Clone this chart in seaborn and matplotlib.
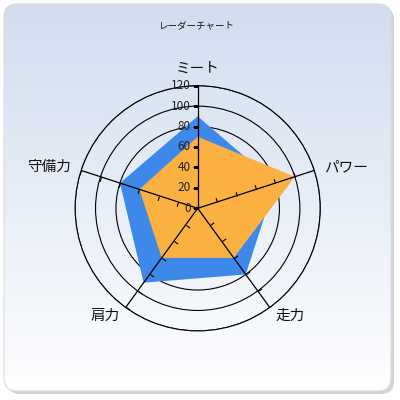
import numpy as np
import matplotlib
matplotlib.use("Agg")
import matplotlib.pyplot as plt
import seaborn as sns
from matplotlib.patches import FancyBboxPatch
from matplotlib.path import Path
from matplotlib.markers import MarkerStyle
from matplotlib.transforms import Affine2D

# --- DADOS ---
TITLE = "レーダーチャート"
categories = ["ミート", "パワー", "走力", "肩力", "守備力"]
series_blue = [90, 80, 80, 90, 80]
series_orange = [70, 100, 60, 60, 60]
r_ticks = [0, 20, 40, 60, 80, 100, 120]

BLUE = "#3d88e8"
ORANGE = "#fab142"

sns.set_theme(style="white")
plt.rcParams["font.family"] = ["Noto Sans CJK JP", "DejaVu Sans"]

fig = plt.figure(figsize=(4, 4), dpi=100, facecolor="white")

# fundo do cartão (gradiente + sombra), em coordenadas de pixel
bg = fig.add_axes([0, 0, 1, 1])
bg.set_xlim(0, 400)
bg.set_ylim(400, 0)
bg.axis("off")
shadow = FancyBboxPatch((7, 7), 387, 387, boxstyle="round,pad=0,rounding_size=13",
                        fc="#c9c9c9", ec="none", alpha=0.8)
bg.add_patch(shadow)
card = FancyBboxPatch((4, 4), 387, 387, boxstyle="round,pad=0,rounding_size=13",
                      fc="none", ec="#dcdcdc", lw=0.8, zorder=3)
bg.add_patch(card)
top = np.array([0.82, 0.867, 0.937])
bottom = np.array([0.995, 0.997, 1.0])
t = np.linspace(0, 1, 256)[:, None, None]
grad = top * (1 - t) + bottom * t
im = bg.imshow(grad, extent=(4, 391, 391, 4), aspect="auto", zorder=2)
clip = FancyBboxPatch((4, 4), 387, 387, boxstyle="round,pad=0,rounding_size=13",
                      transform=bg.transData, fc="none", ec="none")
bg.add_patch(clip)
im.set_clip_path(clip)

fig.text(0.4925, 1 - 25.7 / 400, TITLE, ha="center", va="center", fontsize=6.8, color="#111111")

# --- RADAR ---
cx, cy, rad = 197.7, 208.3, 122.6
ax = fig.add_axes([(cx - rad) / 400, 1 - (cy + rad) / 400, 2 * rad / 400, 2 * rad / 400],
                  projection="polar")
ax.set_facecolor("none")
ax.set_theta_offset(np.pi / 2)
ax.set_theta_direction(-1)
ax.set_ylim(0, r_ticks[-1])
ax.set_yticks(r_ticks[1:])
ax.set_yticklabels([])
ax.set_xticks([])
ax.set_axisbelow(True)
ax.yaxis.grid(True, color="black", lw=0.8)
ax.xaxis.grid(False)
ax.spines["polar"].set_color("black")
ax.spines["polar"].set_linewidth(0.8)

n = len(categories)
theta = np.linspace(0, 2 * np.pi, n, endpoint=False)
theta_c = np.append(theta, theta[0])

ax.fill(theta_c, series_blue + series_blue[:1], color=BLUE, lw=0, zorder=2)
ax.fill(theta_c, series_orange + series_orange[:1], color=ORANGE, lw=0, zorder=2.5)

tick_path = Path([(0, 0), (1, 0)], [Path.MOVETO, Path.LINETO])
for i, (th, name) in enumerate(zip(theta, categories)):
    ax.plot([th, th], [0, r_ticks[-1]], color="black", lw=0.9, zorder=4)
    phi = 90 - 72 * i
    mk = MarkerStyle(tick_path, transform=Affine2D().rotate_deg(phi + 90))
    rr = r_ticks if i == 0 else r_ticks[1:]
    ax.plot([th] * len(rr), rr, ls="", marker=mk, ms=6.5, mew=0.8, mec="black",
            mfc="none", zorder=4)
    # rótulo da categoria
    c, s = np.cos(np.radians(phi)), np.sin(np.radians(phi))
    ha = "left" if c > 0.1 else ("right" if c < -0.1 else "center")
    va = "bottom" if s > 0.9 else "center"
    ax.annotate(name, xy=(th, r_ticks[-1]), xytext=(7.5 * c, 7.5 * s),
                textcoords="offset points", ha=ha, va=va, fontsize=10.5,
                color="#111111", annotation_clip=False)

for r in r_ticks:
    ax.annotate(str(r), xy=(0, r), xytext=(-5, 0), textcoords="offset points",
                ha="right", va="center", fontsize=8.5, color="#222222", zorder=5)

fig.savefig("out.png", dpi=100, facecolor="white")
